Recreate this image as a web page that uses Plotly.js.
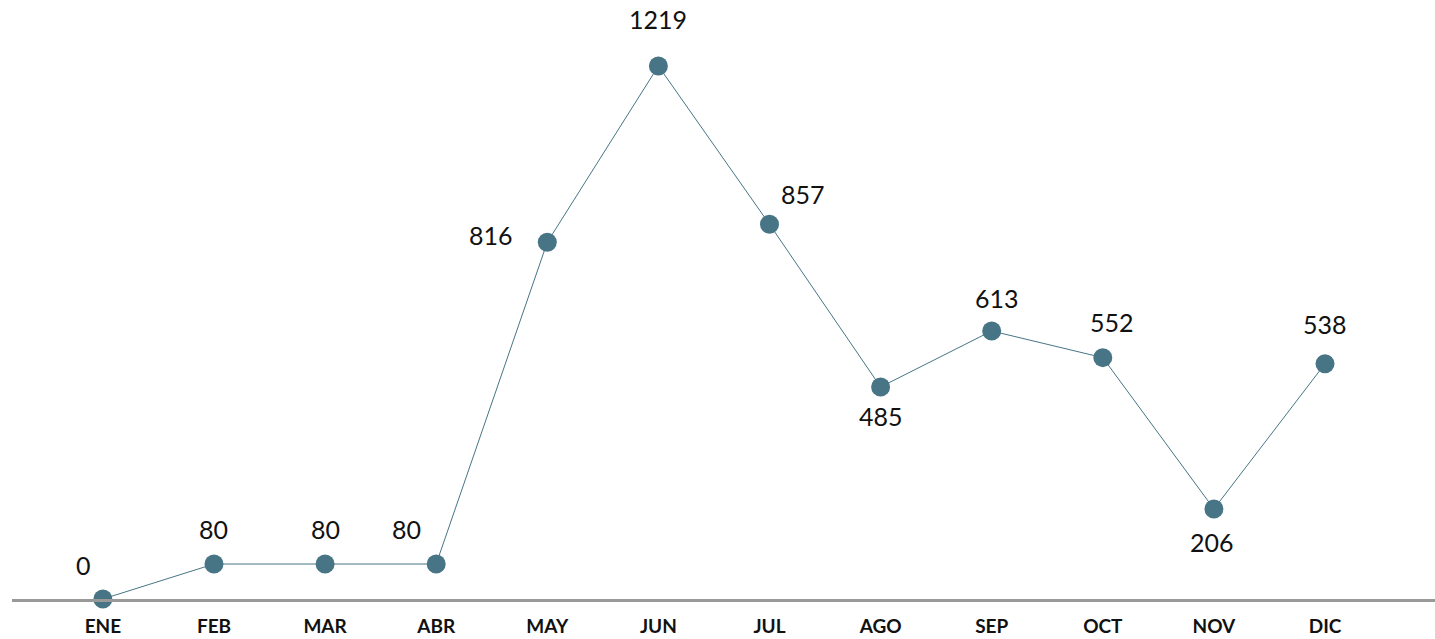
<!DOCTYPE html>
<html>
<head>
<meta charset="utf-8">
<script src="https://cdn.plot.ly/plotly-3.0.1.min.js"></script>
<style>html,body{margin:0;padding:0;background:#fff;}#chart{width:1435px;height:639px;}</style>
</head>
<body>
<div id="chart"></div>
<script>
// Data
const months = ["ENE","FEB","MAR","ABR","MAY","JUN","JUL","AGO","SEP","OCT","NOV","DIC"];
const values = [0, 80, 80, 80, 816, 1219, 857, 485, 613, 552, 206, 538];

// Label offsets in pixels (style only): [xshift, yshift]
const labelShift = [[-19,34],[0,35],[0,35],[-30,35],[-56,7],[0,47],[33,30],[0,-29],[5,33],[9,36],[-2,-33],[0,40]];

const trace = {
  x: months,
  y: values,
  type: 'scatter',
  mode: 'lines+markers',
  line: {color: '#477585', width: 1},
  marker: {color: '#477585', size: 19},
  cliponaxis: false,
  hoverinfo: 'x+y'
};

const annotations = months.map((m, i) => ({
  x: m, y: values[i],
  text: String(values[i]),
  showarrow: false,
  xshift: labelShift[i][0],
  yshift: labelShift[i][1],
  xanchor: 'center', yanchor: 'middle',
  font: {family: 'Lato, "Open Sans", sans-serif', size: 25, color: '#111'}
}));

const layout = {
  width: 1435, height: 639,
  margin: {l: 12, r: 0, t: 0, b: 40},
  paper_bgcolor: '#fff', plot_bgcolor: '#fff',
  showlegend: false,
  xaxis: {
    type: 'category',
    range: [-0.818, 11.99],
    showline: true, linecolor: '#999', linewidth: 3,
    showgrid: false, zeroline: false,
    ticks: '', ticklabelstandoff: 8,
    tickfont: {family: 'Lato, "Open Sans", sans-serif', size: 19, color: '#111', weight: 'bold'},
    fixedrange: true
  },
  yaxis: {
    range: [0, 1370],
    visible: false,
    showgrid: false, zeroline: false,
    fixedrange: true
  },
  annotations: annotations
};

Plotly.newPlot('chart', [trace], layout, {displayModeBar: false, staticPlot: true});
</script>
</body>
</html>
